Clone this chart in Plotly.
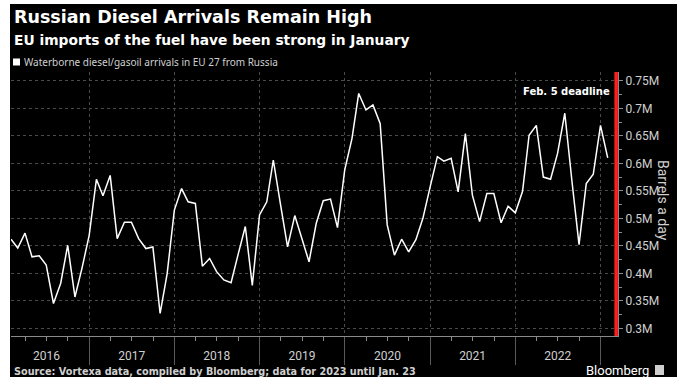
import plotly.graph_objects as go

# ---------------- data ----------------
years = [2016, 2017, 2018, 2019, 2020, 2021, 2022, 2023]
year_labels = ["2016", "2017", "2018", "2019", "2020", "2021", "2022"]
month_ends = ["01-31", "02-28", "03-31", "04-30", "05-31", "06-30",
              "07-31", "08-31", "09-30", "10-31", "11-30", "12-31"]

arrivals_2016 = [0.462, 0.446, 0.473, 0.430, 0.432, 0.415, 0.345, 0.382, 0.451, 0.357, 0.409, 0.469]
arrivals_2017 = [0.571, 0.541, 0.578, 0.463, 0.493, 0.493, 0.463, 0.445, 0.448, 0.327, 0.399, 0.515]
arrivals_2018 = [0.554, 0.530, 0.527, 0.413, 0.427, 0.403, 0.388, 0.383, 0.434, 0.485, 0.378, 0.506]
arrivals_2019 = [0.530, 0.606, 0.525, 0.448, 0.505, 0.463, 0.421, 0.491, 0.532, 0.535, 0.483, 0.588]
arrivals_2020 = [0.645, 0.727, 0.697, 0.706, 0.672, 0.488, 0.433, 0.462, 0.439, 0.461, 0.500, 0.557]
arrivals_2021 = [0.612, 0.604, 0.609, 0.548, 0.654, 0.542, 0.494, 0.545, 0.545, 0.492, 0.522, 0.510]
arrivals_2022 = [0.549, 0.651, 0.669, 0.575, 0.571, 0.618, 0.691, 0.566, 0.452, 0.563, 0.580, 0.669]
arrivals_2023 = [0.610]

y_tick_vals = [0.30, 0.35, 0.40, 0.45, 0.50, 0.55, 0.60, 0.65, 0.70, 0.75]
y_tick_text = ["0.3M", "0.35M", "0.4M", "0.45M", "0.5M", "0.55M", "0.6M", "0.65M", "0.7M", "0.75M"]

deadline_date = "2023-03-08"
deadline_label = "Feb. 5 deadline"

# -------------- assemble --------------
series = [arrivals_2016, arrivals_2017, arrivals_2018, arrivals_2019,
          arrivals_2020, arrivals_2021, arrivals_2022, arrivals_2023]
dates, values = [], []
for yr, vals in zip(years, series):
    for i, v in enumerate(vals):
        md = month_ends[i]
        if md == "02-28" and yr % 4 == 0:
            md = "02-29"
        dates.append(f"{yr}-{md}")
        values.append(v)
label_pos = [f"{y}-07-01" for y in year_labels]

# pixel helpers for paper coords (plot area: x 11..618, y 72..336)
L, R, T, B = 11, 618, 72, 336
def px(x):
    return (x - L) / (R - L)
def py(y):
    return (B - y) / (B - T)

GRID = "#4a4a4a"
AX = "#8a8a8a"
TXT = "#d0d0d0"

fig = go.Figure()
fig.add_trace(go.Scatter(x=dates, y=values, mode="lines",
                         line=dict(color="white", width=1.5),
                         showlegend=False, hoverinfo="skip"))
# invisible trace on label axis so it is drawn
fig.add_trace(go.Scatter(x=dates, y=values, mode="lines", xaxis="x2",
                         line=dict(color="rgba(0,0,0,0)", width=0),
                         showlegend=False, hoverinfo="skip"))

xrange = ["2016-01-31", "2023-03-16"]
fig.update_layout(
    width=688, height=377,
    margin=dict(l=L, r=688 - R, t=T, b=377 - B),
    paper_bgcolor="white", plot_bgcolor="black",
    font=dict(family="Roboto, DejaVu Sans, sans-serif", color=TXT, size=12),
    xaxis=dict(type="date", range=xrange, tick0="2016-01-01", dtick="M12",
               ticks="outside", ticklen=28, tickcolor="#5a5a5a", tickwidth=1,
               showticklabels=False, showgrid=True, gridcolor=GRID, griddash="dot",
               gridwidth=1, showline=True, linecolor=AX, linewidth=1, zeroline=False,
               minor=dict(dtick="M3", tick0="2016-01-01", ticks="outside", ticklen=4,
                          tickcolor=AX, showgrid=False)),
    xaxis2=dict(type="date", range=xrange, overlaying="x", matches="x", anchor="y",
                side="bottom", tickmode="array", tickvals=label_pos, ticktext=year_labels,
                ticks="outside", ticklen=9, tickcolor="rgba(0,0,0,0)",
                showgrid=False, showline=False, zeroline=False,
                tickfont=dict(size=12, color=TXT)),
    yaxis=dict(side="right", range=[0.286, 0.766], tickmode="array",
               tickvals=y_tick_vals, ticktext=y_tick_text,
               ticks="outside", ticklen=4, tickcolor=AX, showline=True, linecolor=AX,
               showgrid=True, gridcolor=GRID, griddash="dot", gridwidth=1, zeroline=False,
               tickfont=dict(size=12, color=TXT),
               minor=dict(tick0=0.275, dtick=0.05, ticks="outside", ticklen=3,
                          tickcolor=AX, showgrid=False)),
)

shapes = [
    # black chart panel with thin white frame around
    dict(type="rect", xref="paper", yref="paper", x0=px(10), x1=px(677),
         y0=py(390), y1=py(4), fillcolor="black", line=dict(width=0), layer="below"),
    # deadline line
    dict(type="line", xref="x", yref="paper", x0=deadline_date, x1=deadline_date,
         y0=0, y1=1, line=dict(color="#ff1e1e", width=3.5)),
    # legend swatch
    dict(type="rect", xref="paper", yref="paper", x0=px(13), x1=px(20),
         y0=py(65.5), y1=py(58.5), fillcolor="white", line=dict(width=0)),
    # logo box
    dict(type="rect", xref="paper", yref="paper", x0=px(655), x1=px(664),
         y0=py(375), y1=py(365), fillcolor="#cfcfcf", line=dict(width=0)),
]
fig.update_layout(shapes=shapes)

ann = [
    dict(text="<b>Russian Diesel Arrivals Remain High</b>", x=px(12), y=py(17),
         font=dict(family="DejaVu Sans", size=17.5, color="white")),
    dict(text="<b>EU imports of the fuel have been strong in January</b>", x=px(12), y=py(40),
         font=dict(family="DejaVu Sans", size=13.8, color="white")),
    dict(text="Waterborne diesel/gasoil arrivals in EU 27 from Russia", x=px(22), y=py(62),
         font=dict(family="Noto Sans", size=10, color=TXT)),
    dict(text="<b>Source: Vortexa data, compiled by Bloomberg; data for 2023 until Jan. 23</b>",
         x=px(12), y=py(371), font=dict(family="DejaVu Sans", size=9.7, color=TXT)),
    dict(text="Bloomberg", x=px(651), y=py(370), xanchor="right",
         font=dict(family="Roboto", size=13, color="white")),
    dict(text="Barrels a day", x=px(663), y=py(200), xanchor="center", textangle=90,
         font=dict(family="Roboto", size=14, color=TXT)),
]
annotations = []
for a in ann:
    base = dict(xref="paper", yref="paper", showarrow=False, xanchor="left", yanchor="middle")
    base.update(a)
    annotations.append(base)
annotations.append(dict(text=f"<b>{deadline_label}</b>", xref="x", yref="paper",
                        x=deadline_date, y=py(91), xanchor="right", yanchor="middle",
                        xshift=-4, showarrow=False,
                        font=dict(family="DejaVu Sans", size=10, color="white")))
fig.update_layout(annotations=annotations)

fig.write_html("out.html", config={"displayModeBar": False},
               post_script="document.body.style.margin='0';document.body.style.padding='0';")
